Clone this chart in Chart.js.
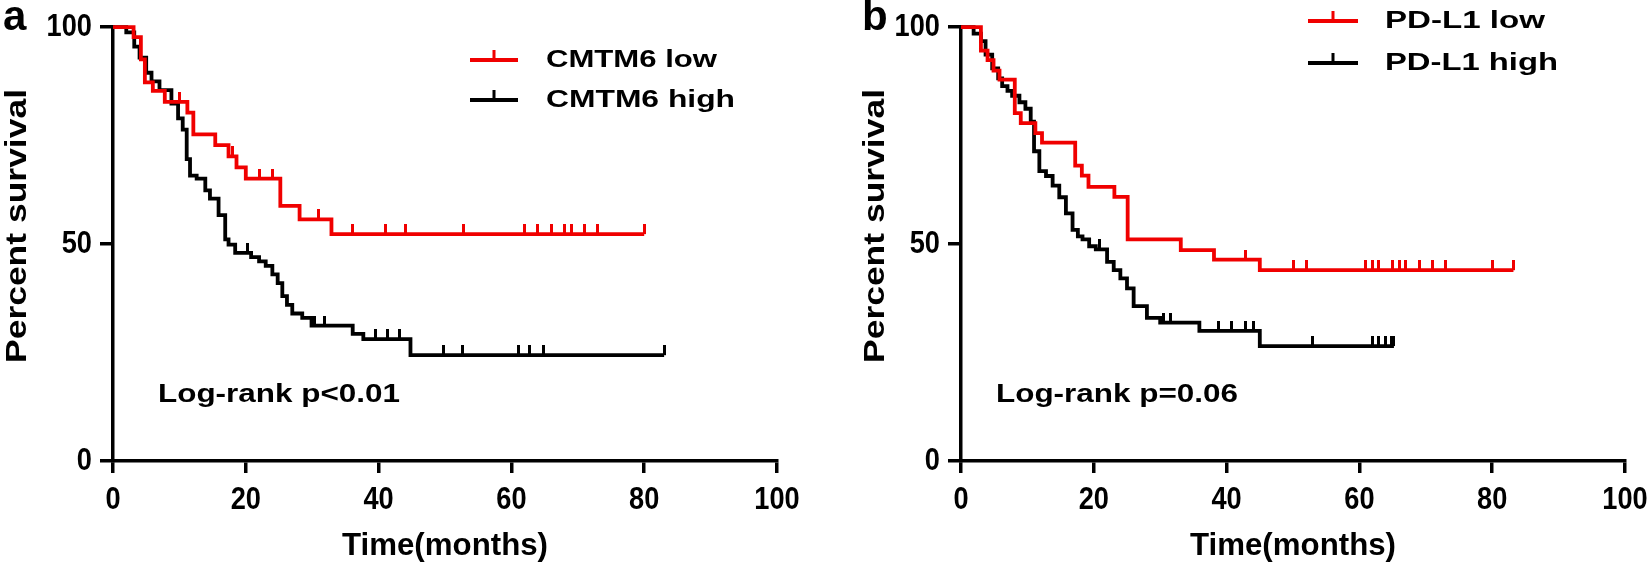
<!DOCTYPE html>
<html><head><meta charset="utf-8">
<script src="https://cdn.jsdelivr.net/npm/chart.js@4/dist/chart.umd.min.js"></script>
<style>
html,body{margin:0;padding:0;background:#fff;overflow:hidden;width:1651px;height:566px;}
.panel{position:absolute;top:0;width:848px;height:566px;}
</style></head><body>
<div class="panel" style="left:0"><canvas id="ca" width="848" height="566"></canvas></div>
<div class="panel" style="left:848px"><canvas id="cb" width="848" height="566"></canvas></div>
<script>
// ---------------- data ----------------
const xTicks = [0, 20, 40, 60, 80, 100];
const yTicks = [0, 50, 100];
const xTitle = 'Time(months)';
const yTitle = 'Percent survival';

// Panel a : CMTM6
const aLabels = ['CMTM6 low', 'CMTM6 high'];
const aStat = 'Log-rank p<0.01';
const aLowT = [0, 3.1, 4.2, 4.8, 6.0, 7.8, 11.2, 12.1, 15.4, 17.4, 18.6, 20.0, 25.2, 28.1, 32.9, 80];
const aLowS = [100, 97.7, 92.6, 87.3, 85.3, 82.8, 80.3, 75.3, 72.8, 70.2, 67.7, 65.1, 58.8, 55.7, 52.3, 52.3];
const aLowCensor = [10.0, 18.0, 22.0, 24.0, 31.0, 36.0, 41.0, 44.0, 52.8, 62.0, 64.0, 66.0, 68.0, 69.0, 71.0, 73.0, 80.0];
const aHighT = [0, 2.0, 3.2, 4.0, 5.0, 5.8, 7.0, 8.8, 9.8, 10.5, 11.1, 11.6, 12.6, 13.9, 14.6, 15.9, 16.9, 17.4, 18.4, 20.8, 22.0, 23.0, 24.0, 24.8, 25.5, 26.2, 27.0, 28.5, 29.9, 36.1, 37.7, 44.8, 83];
const aHighS = [100, 98.8, 95.5, 93.0, 89.5, 87.5, 85.5, 82.4, 79.0, 76.4, 69.6, 65.8, 65.1, 62.4, 60.5, 56.7, 51.1, 49.9, 48.0, 47.0, 46.0, 45.0, 43.0, 41.0, 38.0, 36.0, 34.0, 33.0, 31.2, 29.3, 28.1, 24.4, 24.4];
const aHighCensor = [20.3, 30.4, 31.9, 39.5, 41.3, 43.1, 49.8, 52.7, 61.0, 62.8, 64.9, 83];

// Panel b : PD-L1
const bLabels = ['PD-L1 low', 'PD-L1 high'];
const bStat = 'Log-rank p=0.06';
const bLowT = [0, 3.0, 4.0, 4.9, 5.8, 8.1, 9.0, 11.2, 12.2, 17.2, 18.2, 19.2, 23.1, 25.1, 33.1, 38.1, 45.0, 83.2];
const bLowS = [100, 94.6, 92.4, 90.0, 87.9, 80.2, 77.9, 75.6, 73.4, 68.1, 65.8, 63.2, 60.9, 51.1, 48.6, 46.4, 44.0, 44.0];
const bLowCensor = [42.9, 50.0, 52.0, 60.9, 62.0, 62.9, 65.0, 66.0, 67.0, 69.1, 71.0, 73.0, 80.0, 83.2];
const bHighT = [0, 1.9, 3.0, 3.7, 4.7, 5.6, 6.2, 7.0, 7.7, 8.8, 9.7, 10.5, 11.0, 11.8, 12.8, 13.8, 14.8, 15.8, 16.8, 17.6, 18.3, 19.3, 20.3, 22.0, 23.0, 24.0, 25.0, 26.0, 28.0, 30.0, 35.9, 45.0, 65.2];
const bHighS = [100, 98.5, 96.8, 93.7, 90.5, 88.2, 86.4, 85.3, 84.2, 82.7, 81.2, 78.2, 71.4, 66.8, 65.7, 63.5, 60.8, 57.1, 53.3, 51.8, 51.1, 49.5, 48.8, 45.9, 44.0, 42.1, 39.8, 35.7, 33.0, 31.9, 30.0, 26.5, 26.5];
const bHighCensor = [20.8, 30.5, 31.5, 38.8, 40.8, 42.8, 44.1, 53.0, 61.9, 62.9, 63.9, 64.9, 65.2];

// ---------------- styling ----------------
const RED = '#f00000';
const BLACK = '#000000';
const FONT = '"Liberation Sans", Arial, Helvetica, sans-serif';
const CURVE_W = 3.8;
const TICK_SX = 0.85; // horizontal condensing of tick labels

function censorMark(color) {
  const c = document.createElement('canvas');
  c.width = 3; c.height = 20;
  const g = c.getContext('2d');
  g.fillStyle = color;
  g.fillRect(0, 0, 3, 10);
  return c;
}
function stepAt(T, S, t) {
  let v = S[0];
  for (let i = 0; i < T.length; i++) { if (T[i] <= t) v = S[i]; }
  return v;
}
function curve(T, S) { return T.map((t, i) => ({ x: t, y: S[i] })); }
function censors(T, S, C) { return C.map(t => ({ x: t, y: stepAt(T, S, t) })); }

function drawText(ctx, text, x, y, o) {
  ctx.save();
  ctx.font = 'bold ' + o.size + 'px ' + FONT;
  const w = ctx.measureText(text).width;
  const sx = o.width ? o.width / w : 1;
  ctx.translate(x, y);
  if (o.rotate) ctx.rotate(o.rotate);
  ctx.scale(sx, 1);
  ctx.textAlign = o.align || 'left';
  ctx.textBaseline = o.baseline || 'alphabetic';
  ctx.fillStyle = '#000';
  ctx.fillText(text, 0, 0);
  ctx.restore();
}

// condense tick label glyphs horizontally around their anchor
const condensePlugin = {
  id: 'condense',
  afterLayout(chart) {
    Object.values(chart.scales).forEach(scale => {
      if (scale._condensed) return;
      scale._condensed = true;
      const orig = scale.drawLabels;
      scale.drawLabels = function (area) {
        const ctx = this.ctx;
        const protoFill = CanvasRenderingContext2D.prototype.fillText;
        ctx.fillText = function (text, x, y, maxW) {
          this.save();
          this.translate(x, y);
          this.scale(TICK_SX, 1);
          if (maxW === undefined) protoFill.call(this, text, 0, 0);
          else protoFill.call(this, text, 0, 0, maxW / TICK_SX);
          this.restore();
        };
        try { orig.call(this, area); } finally { delete ctx.fillText; }
      };
    });
  }
};

function makePanel(id, letter, labels, stat, lowT, lowS, lowC, highT, highS, highC, deco) {
  const ctx = document.getElementById(id).getContext('2d');
  const decoPlugin = {
    id: 'deco',
    afterDraw(chart) {
      const c = chart.ctx;
      const area = chart.chartArea;
      drawText(c, letter, deco.letterX, 30, { size: 42 });
      drawText(c, yTitle, deco.yTitleX, 226, { size: 29, width: 274, rotate: -Math.PI / 2, align: 'center' });
      drawText(c, xTitle, (area.left + area.right) / 2, 555, { size: 32, width: 206, align: 'center' });
      const L = deco.legend;
      [[RED, L.y1, labels[0], L.w1], [BLACK, L.y2, labels[1], L.w2]].forEach(([col, y, txt, tw]) => {
        c.save();
        c.strokeStyle = col; c.lineWidth = CURVE_W; c.lineCap = 'butt';
        c.beginPath(); c.moveTo(L.x1, y); c.lineTo(L.x2, y); c.stroke();
        c.fillStyle = col;
        c.fillRect((L.x1 + L.x2) / 2 - 1.5, y - 10, 3, 10);
        c.restore();
        drawText(c, txt, L.tx, y, { size: 24, width: tw, baseline: 'middle' });
      });
      drawText(c, stat, deco.statX, 402, { size: 26, width: 242 });
    }
  };
  return new Chart(ctx, {
    type: 'scatter',
    data: {
      datasets: [
        { data: curve(lowT, lowS), showLine: true, stepped: true, borderColor: RED, borderWidth: CURVE_W, pointRadius: 0, clip: false, order: 1 },
        { data: censors(lowT, lowS, lowC), showLine: false, pointStyle: censorMark(RED), pointRadius: 5, clip: false, order: 1 },
        { data: curve(highT, highS), showLine: true, stepped: true, borderColor: BLACK, borderWidth: CURVE_W, pointRadius: 0, clip: false, order: 2 },
        { data: censors(highT, highS, highC), showLine: false, pointStyle: censorMark(BLACK), pointRadius: 5, clip: false, order: 2 }
      ]
    },
    options: {
      responsive: false,
      animation: false,
      devicePixelRatio: 1,
      layout: { padding: { left: 0, right: 71, top: 20, bottom: 0 } },
      plugins: { legend: { display: false }, tooltip: { enabled: false } },
      scales: {
        x: {
          type: 'linear', min: 0, max: 100,
          afterBuildTicks(s) { s.ticks = xTicks.map(v => ({ value: v })); },
          afterFit(s) { s.height = 105; },
          border: { display: true, color: BLACK, width: 3.5 },
          grid: { drawOnChartArea: false, drawTicks: true, tickLength: 12, color: BLACK, lineWidth: 3.5 },
          ticks: { color: BLACK, font: { family: FONT, size: 32, weight: 'bold' }, padding: 8, maxRotation: 0 }
        },
        y: {
          type: 'linear', min: 0, max: 100,
          afterBuildTicks(s) { s.ticks = yTicks.map(v => ({ value: v })); },
          afterFit(s) { s.width = 113; },
          border: { display: true, color: BLACK, width: 3.5 },
          grid: { drawOnChartArea: false, drawTicks: true, tickLength: 13, color: BLACK, lineWidth: 3.5 },
          ticks: { color: BLACK, font: { family: FONT, size: 32, weight: 'bold' }, padding: 8 }
        }
      }
    },
    plugins: [condensePlugin, decoPlugin]
  });
}

makePanel('ca', 'a', aLabels, aStat, aLowT, aLowS, aLowCensor, aHighT, aHighS, aHighCensor,
  { letterX: 3, yTitleX: 26, statX: 158, legend: { x1: 470, x2: 518, tx: 546, y1: 60, y2: 100, w1: 171, w2: 189 } });
makePanel('cb', 'b', bLabels, bStat, bLowT, bLowS, bLowCensor, bHighT, bHighS, bHighCensor,
  { letterX: 14, yTitleX: 36, statX: 148, legend: { x1: 1308 - 848, x2: 1358 - 848, tx: 1385 - 848, y1: 21, y2: 63, w1: 160, w2: 173 } });
</script>
</body></html>
